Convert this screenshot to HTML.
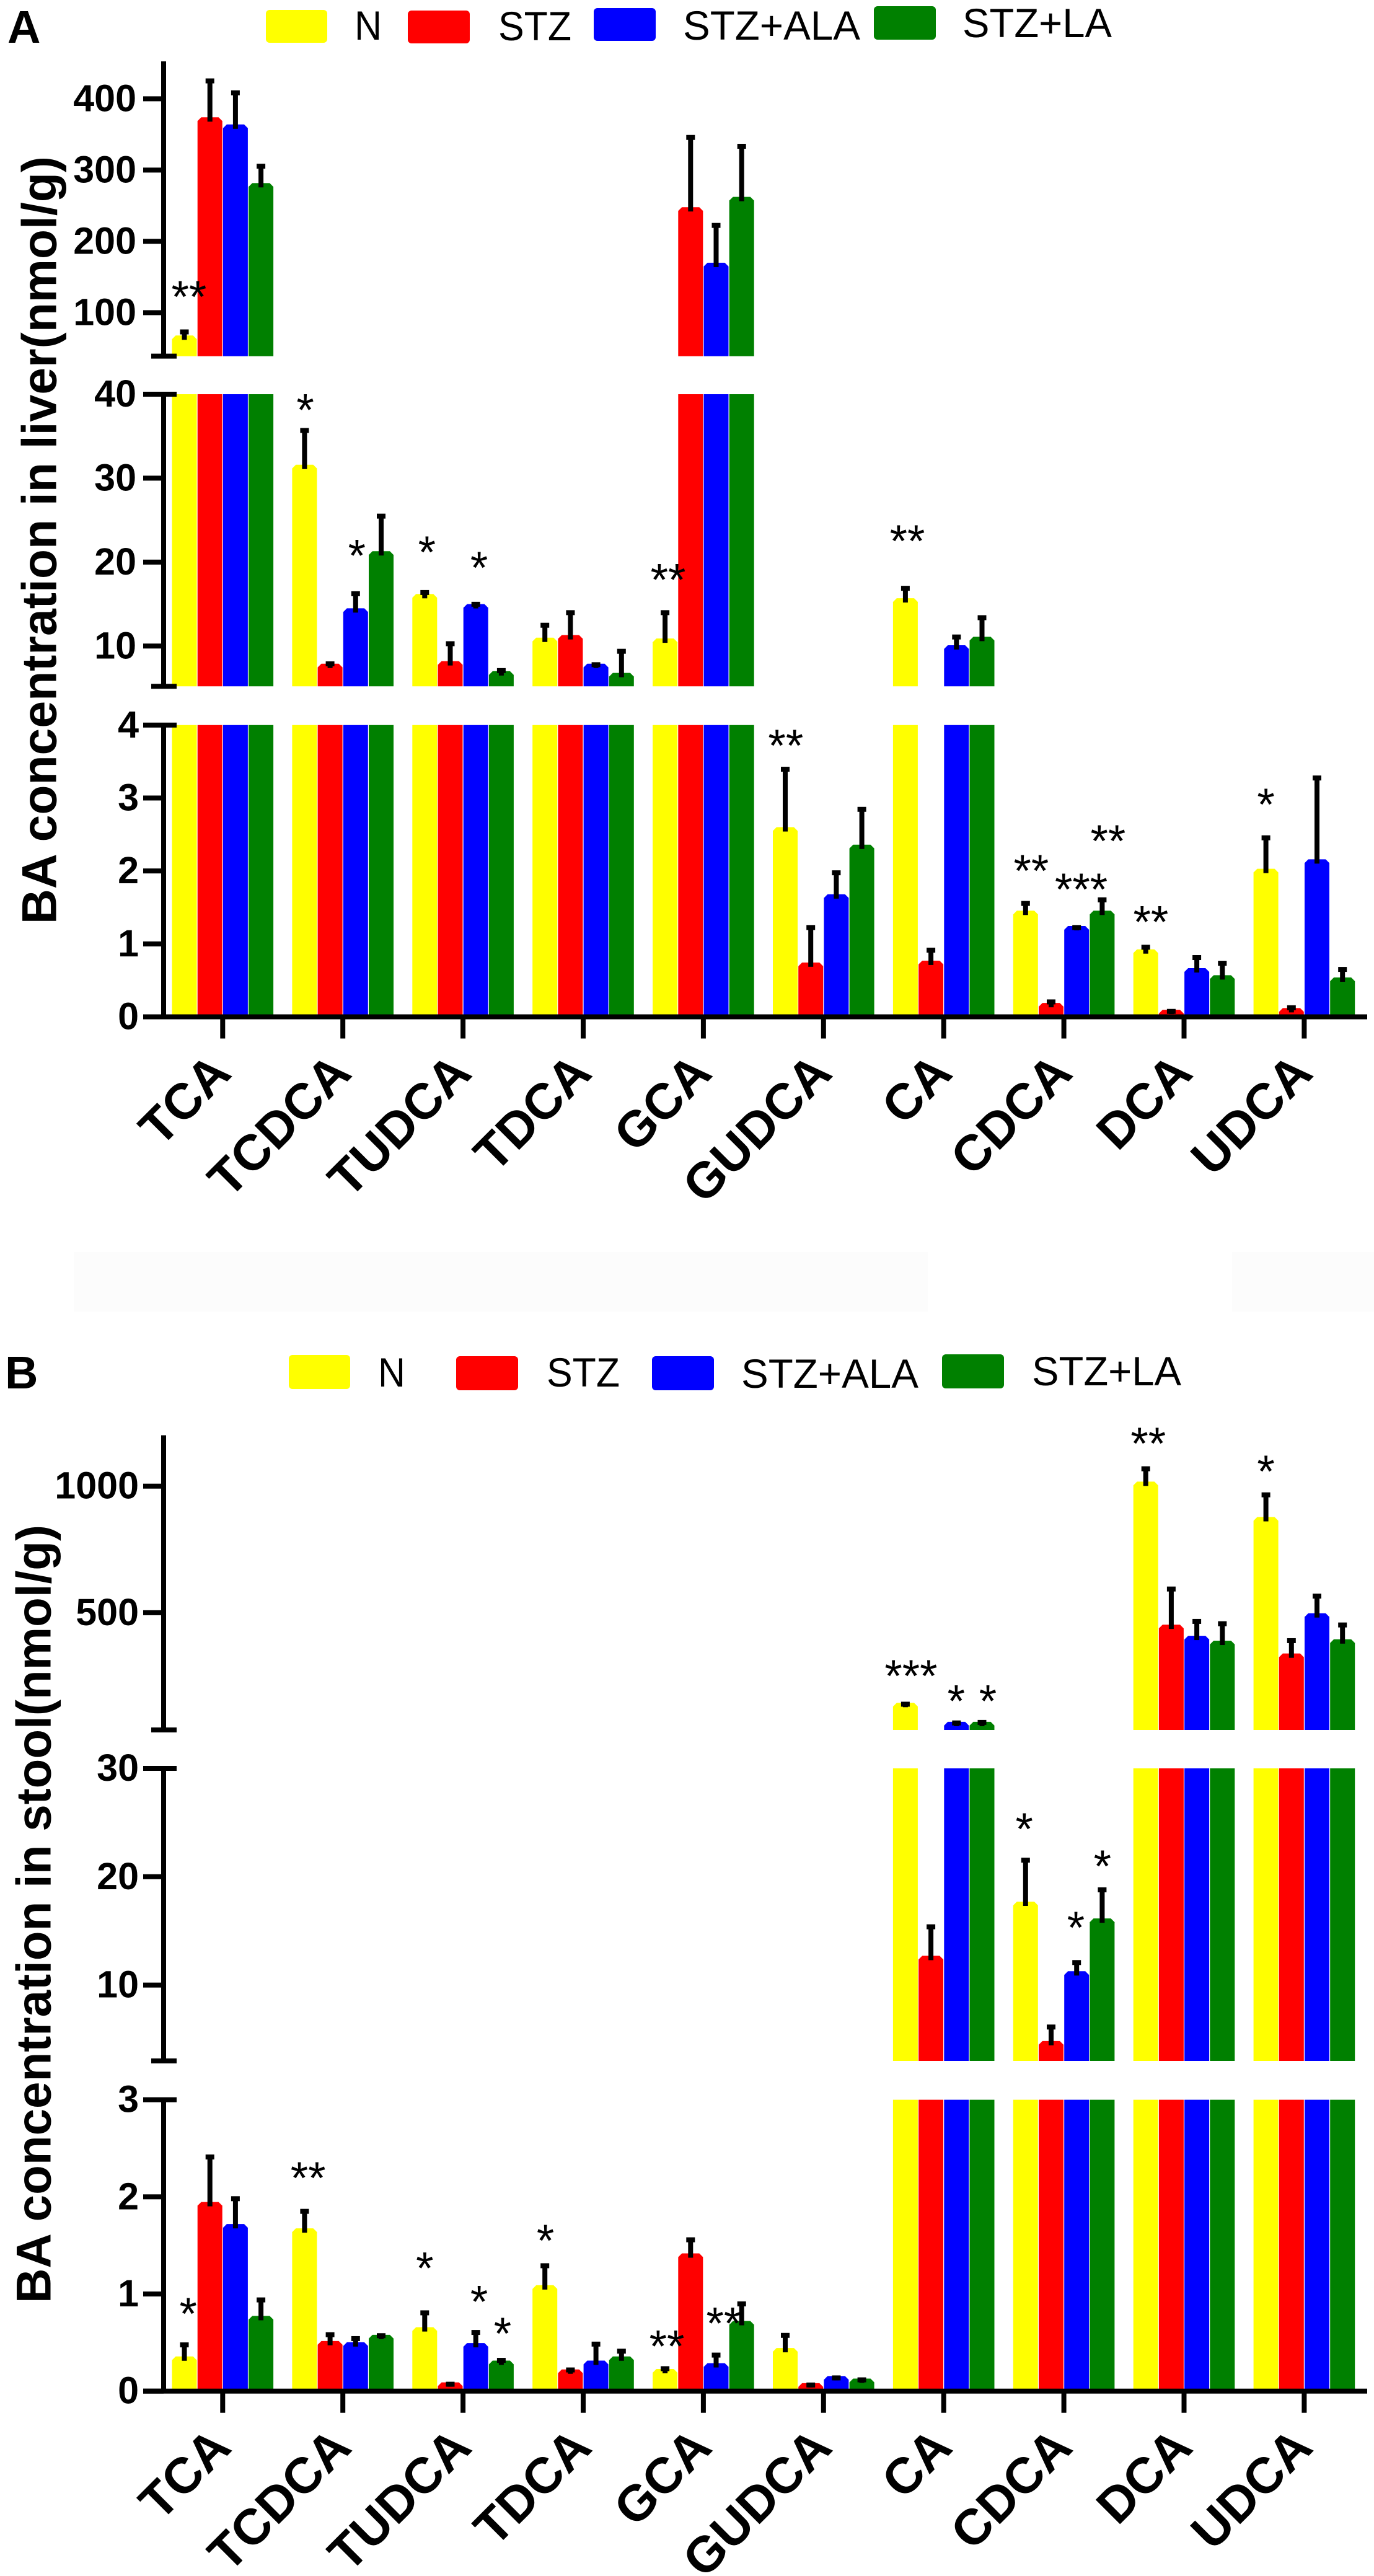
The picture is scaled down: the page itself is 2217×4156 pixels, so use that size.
<!DOCTYPE html>
<html lang="en">
<head>
<meta charset="utf-8">
<title>BA concentration in liver and stool</title>
<style>
html,body{margin:0;padding:0;background:#fff;}
svg{display:block;font-family:"Liberation Sans",Arial,sans-serif;}
.lg{font-size:66px;fill:#000;}
.pl{font-size:74px;font-weight:bold;fill:#000;}
.yt{font-size:79px;font-weight:bold;fill:#000;}
</style>
</head>
<body>
<svg id="chart" xmlns="http://www.w3.org/2000/svg" width="2217" height="4156" viewBox="0 0 2217 4156">
<rect x="0" y="0" width="2217" height="4156" fill="#ffffff"/>
<rect x="119" y="2020" width="1378" height="96" fill="#fcfcfc"/>
<rect x="1988" y="2020" width="229" height="96" fill="#fcfcfc"/>

<g id="panelA">
<text class="pl" x="12" y="69">A</text>
<g>
<rect x="429" y="16" width="99" height="53" rx="6" fill="#ffff00"/>
<text class="lg" x="572" y="64" textLength="44" lengthAdjust="spacingAndGlyphs">N</text>
<rect x="658" y="17" width="100" height="53" rx="6" fill="#ff0000"/>
<text class="lg" x="804" y="65" textLength="118" lengthAdjust="spacingAndGlyphs">STZ</text>
<rect x="958" y="13" width="100" height="53" rx="6" fill="#0000ff"/>
<text class="lg" x="1102" y="64" textLength="286" lengthAdjust="spacingAndGlyphs">STZ+ALA</text>
<rect x="1410" y="10" width="100" height="54" rx="6" fill="#008000"/>
<text class="lg" x="1553" y="60" textLength="241" lengthAdjust="spacingAndGlyphs">STZ+LA</text>
</g>
<text class="yt" transform="translate(90.6 1491) rotate(-90)" textLength="1239" lengthAdjust="spacingAndGlyphs">BA concentration in liver(nmol/g)</text>
</g>

<g id="panelB">
<text class="pl" x="8" y="2240">B</text>
<g>
<rect x="466" y="2186" width="99" height="55" rx="6" fill="#ffff00"/>
<text class="lg" x="610" y="2237" textLength="44" lengthAdjust="spacingAndGlyphs">N</text>
<rect x="736" y="2188" width="100" height="55" rx="6" fill="#ff0000"/>
<text class="lg" x="882" y="2237" textLength="118" lengthAdjust="spacingAndGlyphs">STZ</text>
<rect x="1052" y="2188" width="100" height="55" rx="6" fill="#0000ff"/>
<text class="lg" x="1196" y="2239" textLength="286" lengthAdjust="spacingAndGlyphs">STZ+ALA</text>
<rect x="1520" y="2185" width="100" height="55" rx="6" fill="#008000"/>
<text class="lg" x="1665" y="2235" textLength="241" lengthAdjust="spacingAndGlyphs">STZ+LA</text>
</g>
<text class="yt" transform="translate(81.4 3716) rotate(-90)" textLength="1256" lengthAdjust="spacingAndGlyphs">BA concentration in stool(nmol/g)</text>
</g>
</svg>

<script>
const categories = ['TCA','TCDCA','TUDCA','TDCA','GCA','GUDCA','CA','CDCA','DCA','UDCA'];
const seriesColors = ['#ffff00','#ff0000','#0000ff','#008000'];
const seriesNames = ['n','stz','stz-ala','stz-la'];

const liverN = [68,31.6,16.2,11.0,10.9,2.6,15.7,1.455,0.925,2.03];
const liverNUpper = [75.6,35.9,16.6,12.7,14.2,3.42,17.1,1.58,0.98,2.48];
const liverSTZ = [374,7.9,8.2,11.3,248,0.745,0.77,0.19,0.097,0.12];
const liverSTZUpper = [427.7,8.1,10.5,14.2,348.4,1.25,0.94,0.23,0.1,0.15];
const liverALA = [364,14.5,15,7.9,170,1.68,10.1,1.245,0.667,2.16];
const liverALAUpper = [411,16.45,15.2,8.0,225,2.0,11.3,1.25,0.837,3.3];
const liverLA = [281.8,21.3,7.0,6.8,262.4,2.36,11.1,1.455,0.57,0.54];
const liverLAUpper = [308,25.7,7.3,9.6,336,2.87,13.6,1.63,0.76,0.675];

const stoolN = [0.357,1.676,0.658,1.09,0.228,0.444,144,17.7,1018,878];
const stoolNUpper = [0.495,1.87,0.825,1.31,0.25,0.593,146,21.7,1076,973];
const stoolSTZ = [1.947,0.516,0.09,0.223,1.418,0.082,12.7,4.84,453,339];
const stoolSTZUpper = [2.43,0.6,0.09,0.237,1.577,0.082,15.55,6.3,601,397];
const stoolALA = [1.72,0.503,0.495,0.314,0.288,0.155,69,11.28,409,498];
const stoolALAUpper = [2.0,0.56,0.623,0.503,0.39,0.155,72,12.25,473,573];
const stoolLA = [0.774,0.58,0.314,0.357,0.722,0.129,69,16.15,389.5,395];
const stoolLAUpper = [0.958,0.59,0.336,0.43,0.917,0.135,74,18.96,464,459];

const liverTicksLow = [0,1,2,3,4];
const liverTicksMid = [10,20,30,40];
const liverTicksHigh = [100,200,300,400];
const stoolTicksLow = [0,1,2,3];
const stoolTicksMid = [10,20,30];
const stoolTicksHigh = [500,1000];

/* significance marks: category index, series position, marker, data value */
const liverSignificance = [
 [0,0.18,'**',132.7],[1,0.03,'*',39.0],[1,2.05,'*',21.64],[2,0.085,'*',22.07],[2,2.13,'*',20.2],
 [4,0.12,'**',18.77],[6,0.075,'**',23.38],[5,0.02,'**',3.82],[7,0.22,'**',2.105],[7,2.18,'***',1.848],
 [7,3.23,'**',2.511],[8,0.2,'**',1.401],[9,0,'*',3.013]
];
const stoolSignificance = [
 [0,0.15,'*',0.872],[1,0.14,'**',2.27],[2,0,'*',1.341],[2,2.13,'*',0.997],[2,3.05,'*',0.668],
 [3,0.02,'*',1.625],[4,0.07,'**',0.537],[4,2.3,'**',0.774],[7,-0.05,'*',25.08],[7,1.97,'*',15.98],
 [7,3.01,'*',21.64],[6,0.22,'***',279.8],[6,1.99,'*',179.7],[6,3.23,'*',179.7],[8,0.1,'**',1198],[9,0,'*',1088]
];

/* axis layout */
const catStart = 277.5, catStep = 193.9, barStep = 41.2, barWidth = 40;
const axisX = 264, axisRight = 2206;
const liverSegments = [
 {lo:0,hi:4,yLo:1640.5,yHi:1169.8,labelEnd:224},
 {lo:5.2,hi:40,yLo:1107.3,yHi:636,labelEnd:220},
 {lo:39,hi:452.5,yLo:574.6,yHi:99,labelEnd:220}
];
const stoolSegments = [
 {lo:0,hi:3,yLo:3857.7,yHi:3387.6,labelEnd:224},
 {lo:3,hi:30,yLo:3325,yHi:2853,labelEnd:224},
 {lo:37,hi:1201,yLo:2791,yHi:2315.6,labelEnd:224}
];

const NS = 'http://www.w3.org/2000/svg';
function mk(parent, tag, attrs, text){
  const el = document.createElementNS(NS, tag);
  for(const k in attrs){ el.setAttribute(k, attrs[k]); }
  if(text !== undefined){ el.textContent = text; }
  parent.appendChild(el);
  return el;
}
function scale(seg, v){
  return seg.yLo - (v - seg.lo) * (seg.yLo - seg.yHi) / (seg.hi - seg.lo);
}
function segFor(segs, v){
  for(let i=0;i<segs.length;i++){ if(v <= segs[i].hi){ return segs[i]; } }
  return segs[segs.length-1];
}
function xCat(i){ return catStart + catStep * i; }
function xBar(i, s){ return xCat(i) + barStep * s; }

function drawBars(root, segs, values, uppers, s){
  const g = mk(root, 'g', {});
  
  
  values.forEach(function(v, i){
    const x = xBar(i, s);
    const cat = categories[i].toLowerCase();
    segs.forEach(function(seg){
      if(v <= seg.lo){ return; }
      const capped = v > seg.hi;
      const yt = scale(seg, Math.min(v, seg.hi));
      const yb = seg.yLo;
      const c = capped ? 0 : Math.min(6, yb - yt);
      const d = 'M' + x + ' ' + yb + 'L' + x + ' ' + (yt + c) + 'L' + (x + (capped ? 0 : 6)) + ' ' + yt +
                'L' + (x + barWidth - (capped ? 0 : 6)) + ' ' + yt + 'L' + (x + barWidth) + ' ' + (yt + c) +
                'L' + (x + barWidth) + ' ' + yb + 'Z';
      const bar = mk(g, 'path', {d:d, fill:seriesColors[s]});
      
      
    });
  });
  return g;
}
function drawErrors(root, segs, values, uppers, s){
  const g = mk(root, 'g', {});
  
  
  values.forEach(function(v, i){
    const seg = segFor(segs, v);
    const cx = xBar(i, s) + barWidth / 2;
    const yTop = scale(seg, Math.min(uppers[i], seg.hi));
    const yBar = scale(seg, v);
    const stem = mk(g, 'rect', {x:cx - 4, y:yTop, width:8, height:Math.max(yBar + 7 - yTop, 1), fill:'#000'});
    
    
    const cap = mk(g, 'rect', {x:cx - 7, y:yTop - 1, width:14, height:8, fill:'#000'});
    
    
  });
}
function drawYAxis(root, segs, tickSets){
  segs.forEach(function(seg, idx){
    const line = mk(root, 'rect', {x:axisX - 4, y:seg.yHi, width:8, height:seg.yLo - seg.yHi, fill:'#000'});
    
    
    if(idx > 0){
      const endTick = mk(root, 'rect', {x:244, y:seg.yLo - 4, width:41, height:8, fill:'#000'});
      
      
    }
    tickSets[idx].forEach(function(t){
      const y = scale(seg, t);
      const isTopEdge = Math.abs(t - seg.hi) < 1e-6 && idx < segs.length - 1;
      const tick = mk(root, 'rect', {x:231, y:y - 4, width:isTopEdge ? 54 : 33, height:8, fill:'#000'});
      
      
      const lab = mk(root, 'text', {x:seg.labelEnd, y:y + 20, 'text-anchor':'end', 'font-size':61, 'font-weight':'bold', fill:'#000'}, String(t));
      
      
    });
  });
}
function drawXAxis(root, y0, labelDy){
  const axis = mk(root, 'rect', {x:231, y:y0 - 4, width:axisRight - 231, height:8, fill:'#000'});
  
  
  categories.forEach(function(name, i){
    const cx = xCat(i) + (barStep * 3 + barWidth) / 2;
    const tick = mk(root, 'rect', {x:cx - 4, y:y0, width:8, height:35, fill:'#000'});
    
    
    const ax = cx + 17, ay = y0 + labelDy;
    const lab = mk(root, 'text', {transform:'translate(' + ax + ' ' + ay + ') rotate(-45)', 'text-anchor':'end', 'font-size':81, 'font-weight':'bold', fill:'#000'}, name);
    
    
  });
}
function drawStars(root, segs, marks){
  marks.forEach(function(m){
    const seg = segFor(segs, m[3]);
    const cx = xBar(m[0], m[1]) + barWidth / 2;
    const st = mk(root, 'text', {x:cx, y:scale(seg, m[3]) + 37, 'text-anchor':'middle', 'font-size':73, fill:'#000'}, m[2]);
    
    
  });
}
function drawPanel(rootId, segs, valueSets, upperSets, tickSets, marks, labelDy){
  const root = document.getElementById(rootId);
  const marksG = mk(root, 'g', {});
  
  
  valueSets.forEach(function(vals, s){ drawBars(marksG, segs, vals, upperSets[s], s); });
  valueSets.forEach(function(vals, s){ drawErrors(marksG, segs, vals, upperSets[s], s); });
  const axesG = mk(root, 'g', {});
  
  
  drawYAxis(axesG, segs, tickSets);
  drawXAxis(axesG, segs[0].yLo, labelDy);
  drawStars(root, segs, marks);
}
drawPanel('panelA', liverSegments, [liverN,liverSTZ,liverALA,liverLA], [liverNUpper,liverSTZUpper,liverALAUpper,liverLAUpper],
  [liverTicksLow,liverTicksMid,liverTicksHigh], liverSignificance, 94.5);
drawPanel('panelB', stoolSegments, [stoolN,stoolSTZ,stoolALA,stoolLA], [stoolNUpper,stoolSTZUpper,stoolALAUpper,stoolLAUpper],
  [stoolTicksLow,stoolTicksMid,stoolTicksHigh], stoolSignificance, 94.5);
</script>
</body>
</html>
